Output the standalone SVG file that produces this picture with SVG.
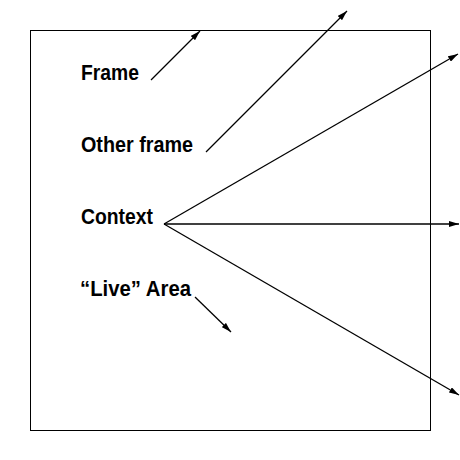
<svg xmlns="http://www.w3.org/2000/svg" width="460" height="460" viewBox="0 0 460 460">
<defs>
<style>
.lbl{font-family:"Liberation Sans",Arial,sans-serif;font-weight:bold;font-size:22.5px;fill:#000}
.ln{stroke:#000;stroke-width:1.3;fill:none;marker-end:url(#ah)}
</style>
<marker id="ah" viewBox="0 0 10 6" refX="10" refY="3" markerWidth="10" markerHeight="6" markerUnits="userSpaceOnUse" orient="auto">
<path d="M0,0 L10,3 L0,6 Z" fill="#000"/>
</marker>
</defs>
<rect width="460" height="460" fill="#fff"/>
<g id="area">
<rect x="30.5" y="30.5" width="400" height="400" fill="none" stroke="#000" stroke-width="1"/>
</g>
<g id="frame"><text class="lbl" x="81" y="80" textLength="58" lengthAdjust="spacingAndGlyphs">Frame</text></g>
<g id="other-frame"><text class="lbl" x="81" y="152" textLength="112" lengthAdjust="spacingAndGlyphs">Other frame</text></g>
<g id="context"><text class="lbl" x="81" y="224" textLength="72" lengthAdjust="spacingAndGlyphs">Context</text></g>
<g id="live-area"><text class="lbl" x="80" y="296" textLength="111" lengthAdjust="spacingAndGlyphs">“Live” Area</text></g>
<g id="connectors">
<line class="ln" x1="151" y1="80" x2="200" y2="31"/>
<line class="ln" x1="206" y1="152" x2="347" y2="11"/>
<line class="ln" x1="164" y1="224" x2="458" y2="54"/>
<line class="ln" x1="164" y1="224" x2="459" y2="224"/>
<line class="ln" x1="164" y1="224" x2="459" y2="395"/>
<line class="ln" x1="195" y1="297" x2="231" y2="332"/>
</g>
</svg>
